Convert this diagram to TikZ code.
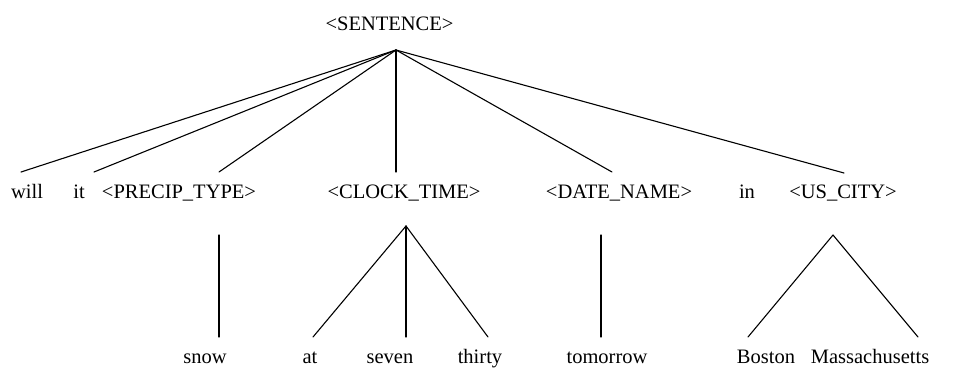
\documentclass[tikz,border=0pt]{standalone}
\usepackage{fontspec}
\setmainfont{Liberation Serif}
\begin{document}
\begin{tikzpicture}[x=1pt,y=-1pt,
  word/.style={anchor=base,inner sep=0pt,font=\fontsize{20.5}{24}\selectfont},
  branch/.style={line width=1.1pt,line cap=round}]
\useasboundingbox (0,0) rectangle (961,375);
% nodes
\node[word] (s) at (389.5,30) {<SENTENCE>};
\node[word] (will) at (27,198) {will};
\node[word] (it) at (79,198) {it};
\node[word] (pt) at (179,198) {<PRECIP\_TYPE>};
\node[word] (ct) at (404,198) {<CLOCK\_TIME>};
\node[word] (dn) at (619,198) {<DATE\_NAME>};
\node[word] (in) at (747,198) {in};
\node[word] (uc) at (843,198) {<US\_CITY>};
\node[word] (snow) at (205,363) {snow};
\node[word] (at) at (310,363) {at};
\node[word] (seven) at (390,363) {seven};
\node[word] (thirty) at (480,363) {thirty};
\node[word] (tom) at (607,363) {tomorrow};
\node[word] (bos) at (766,363) {Boston};
\node[word] (mass) at (870,363) {Massachusetts};
% connector end points
\coordinate (s-a) at (396,50);
\coordinate (will-t) at (21,172);
\coordinate (it-t) at (94,172);
\coordinate (pt-t) at (219,172);
\coordinate (ct-t) at (396,172);
\coordinate (dn-t) at (612,172);
\coordinate (uc-t) at (844,173);
\coordinate (pt-b) at (219,235);
\coordinate (snow-t) at (219,337);
\coordinate (ct-a) at (406,226);
\coordinate (at-t) at (313,337);
\coordinate (seven-t) at (406,337);
\coordinate (thirty-t) at (488,337);
\coordinate (dn-b) at (601,235);
\coordinate (tom-t) at (601,337);
\coordinate (uc-a) at (833,235);
\coordinate (bos-t) at (748,337);
\coordinate (mass-t) at (918,337);
% connectors
\foreach \c in {will-t,it-t,pt-t,ct-t,dn-t,uc-t} \draw[branch] (s-a) -- (\c);
\draw[branch] (pt-b) -- (snow-t);
\foreach \c in {at-t,seven-t,thirty-t} \draw[branch] (ct-a) -- (\c);
\draw[branch] (dn-b) -- (tom-t);
\foreach \c in {bos-t,mass-t} \draw[branch] (uc-a) -- (\c);
\end{tikzpicture}
\end{document}
